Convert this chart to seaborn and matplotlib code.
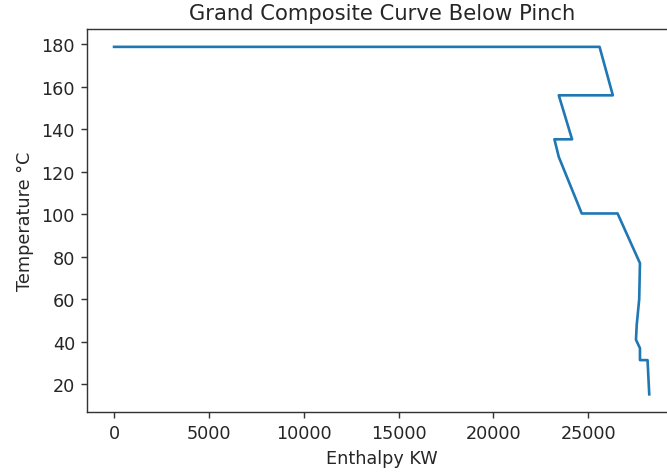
import matplotlib
matplotlib.use("Agg")
import matplotlib.pyplot as plt
import seaborn as sns
import pandas as pd

# Grand composite curve points (Enthalpy KW, Temperature °C)
enthalpy = [0, 25600, 26300, 23450, 24150, 23220, 23450, 24660, 26550,
            27730, 27690, 27560, 27520, 27730, 27730, 28130, 28220]
temperature = [178.8, 178.8, 156, 156, 135.3, 135.3, 127, 100.4, 100.4,
               77, 60, 48, 41, 37, 31.4, 31.4, 15.3]

title = "Grand Composite Curve Below Pinch"
xlabel = "Enthalpy KW"
ylabel = "Temperature °C"
xticks = [0, 5000, 10000, 15000, 20000, 25000]
yticks = [20, 40, 60, 80, 100, 120, 140, 160, 180]

df = pd.DataFrame({"Enthalpy": enthalpy, "Temperature": temperature})

k = 1.27
plt.rcParams['font.family'] = ['DejaVu Sans']
fig = plt.figure(figsize=(6.67, 4.77), dpi=100)
ax = fig.add_axes([0.1309, 0.1348, 0.8826, 0.8013])
sns.lineplot(data=df, x="Enthalpy", y="Temperature", sort=False, estimator=None,
             color="#1f77b4", linewidth=1.5 * k, ax=ax)
ax.set_xticks(xticks)
ax.set_yticks(yticks)
ax.tick_params(labelsize=10 * k, length=3.5 * k, width=0.8 * k, pad=3.5 * k,
               colors="#333333", labelcolor="#262626")
for s in ax.spines.values():
    s.set_color("#333333")
    s.set_linewidth(0.8 * k)
ax.set_xlabel(xlabel, fontsize=10 * k, color="#262626", labelpad=4 * k)
ax.set_ylabel(ylabel, fontsize=10 * k, color="#262626", labelpad=4 * k)
ax.set_title(title, fontsize=12 * k, color="#262626", pad=6 * k)
fig.savefig("out.png", dpi=100)
